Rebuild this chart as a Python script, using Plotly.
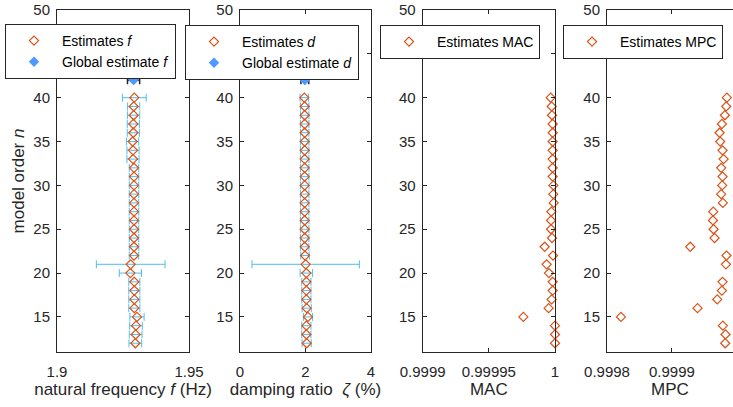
import plotly.graph_objects as go

# ---------------- data ----------------
model_order = list(range(12, 41))

freq_est = [1.92967, 1.92980, 1.92992, 1.93030, 1.92929, 1.92929, 1.92929, 1.92929,
            1.92778, 1.92790, 1.92917, 1.92917, 1.92917, 1.92917, 1.92917, 1.92917,
            1.92917, 1.92917, 1.92917, 1.92917, 1.92917, 1.92879, 1.92879, 1.92866,
            1.92891, 1.92891, 1.92904, 1.92904, 1.92929]
freq_err = [0.0024, 0.0024, 0.0024, 0.0027, 0.0021, 0.0021, 0.0021, 0.0021,
            0.0042, 0.0130, 0.0018, 0.0018, 0.0018, 0.0018, 0.0018, 0.0018,
            0.0018, 0.0018, 0.0018, 0.0018, 0.0018, 0.0023, 0.0023, 0.0023,
            0.0023, 0.0023, 0.0023, 0.0023, 0.0045]

damp_est = [2.036, 2.026, 2.026, 2.076, 2.036, 2.026, 2.026, 2.026,
            2.026, 2.005, 1.985, 1.975, 1.975, 1.975, 1.975, 1.975,
            1.975, 1.975, 1.975, 1.975, 1.975, 1.975, 1.975, 1.975,
            1.975, 1.975, 1.975, 1.975, 1.964]
damp_err = [0.14, 0.14, 0.14, 0.14, 0.14, 0.14, 0.14, 0.14,
            0.19, 1.64, 0.13, 0.13, 0.13, 0.13, 0.13, 0.13,
            0.13, 0.13, 0.13, 0.13, 0.13, 0.13, 0.13, 0.13,
            0.13, 0.13, 0.13, 0.13, 0.13]

mac_est = [1.0, 1.0, 1.0, 0.9999761, 0.99999521, 0.99999748, 0.99999824, 0.99999824,
           0.99999546, 0.9999937, 0.99999849, 0.99999219, 0.99999773, 0.99999698,
           0.99999698, 0.99999723, 0.999999, 0.99999874, 0.99999874, 0.99999824,
           0.99999824, 0.99999824, 0.99999824, 0.99999824, 0.99999824, 0.99999824,
           0.99999773, 0.99999748, 0.99999673]

mpc_est = [0.9999820, 0.9999825, 0.9999784, 0.9998215, 0.9999394, 0.9999697, 0.9999769,
           0.9999779, 0.99999998, 0.9999831, 0.9999840, 0.9999282, 0.9999656, 0.9999641,
           0.9999631, 0.9999636, 0.9999784, 0.9999758, 0.9999774, 0.9999779, 0.9999758,
           0.9999795, 0.9999779, 0.9999743, 0.9999733, 0.9999769, 0.9999815, 0.9999835,
           0.9999846]

global_order = [42]
global_freq = [1.929]
global_freq_err = [0.0023]
global_damp = [1.98]
global_damp_err = [0.12]

y_ticks = [15, 20, 25, 30, 35, 40, 45, 50]
f_ticks = [1.9, 1.95]
f_ticktext = ["1.9", "1.95"]
d_ticks = [0, 2, 4]
mac_ticks = [0.9999, 0.99995, 1.0]
mac_ticktext = ["0.9999", "0.99995", "1"]
mpc_ticks = [0.9998, 0.9999, 1.0]
mpc_ticktext = ["0.9998", "0.9999", "1"]

# ---------------- style ----------------
W, H = 733, 407
ORANGE = "#D95319"
CYAN = "#4DBEEE"
BLUE = "#4D99FF"
AX = "#262626"
TXT = "#262626"
FONT = "Liberation Sans, Arial, Helvetica, sans-serif"


def fx(p):
    return p / W


def fy(p):
    return 1 - p / H


y_dom = [fy(352), fy(10)]
x_doms = [[fx(57), fx(189)], [fx(240), fx(371)], [fx(422.7), fx(555)], [fx(607), 1.0]]

est_marker = dict(symbol="diamond-open", size=7, color=ORANGE, line=dict(width=1.2, color=ORANGE))
glob_marker = dict(symbol="diamond", size=8, color=BLUE, line=dict(width=0))

fig = go.Figure()

fig.add_trace(go.Scatter(
    x=freq_est, y=model_order, mode="markers", name="Estimates <i>f</i>",
    marker=est_marker,
    error_x=dict(type="data", array=freq_err, color=CYAN, thickness=1, width=4),
    xaxis="x", yaxis="y", legend="legend"))
fig.add_trace(go.Scatter(
    x=global_freq, y=global_order, mode="markers", name="Global estimate <i>f</i>",
    marker=glob_marker,
    error_x=dict(type="data", array=global_freq_err, color=AX, thickness=1.5, width=4),
    xaxis="x", yaxis="y", legend="legend"))

fig.add_trace(go.Scatter(
    x=damp_est, y=model_order, mode="markers", name="Estimates <i>d</i>",
    marker=est_marker,
    error_x=dict(type="data", array=damp_err, color=CYAN, thickness=1, width=4),
    xaxis="x2", yaxis="y2", legend="legend2"))
fig.add_trace(go.Scatter(
    x=global_damp, y=global_order, mode="markers", name="Global estimate <i>d</i>",
    marker=glob_marker,
    error_x=dict(type="data", array=global_damp_err, color=AX, thickness=1.5, width=4),
    xaxis="x2", yaxis="y2", legend="legend2"))

fig.add_trace(go.Scatter(
    x=mac_est, y=model_order, mode="markers", name="Estimates MAC",
    marker=est_marker, cliponaxis=False,
    xaxis="x3", yaxis="y3", legend="legend3"))

fig.add_trace(go.Scatter(
    x=mpc_est, y=model_order, mode="markers", name="Estimates MPC",
    marker=est_marker, cliponaxis=False,
    xaxis="x4", yaxis="y4", legend="legend4"))

common = dict(showline=True, linecolor=AX, linewidth=1, mirror="ticks", ticks="inside",
              ticklen=4, tickcolor=AX, tickwidth=1, showgrid=False, zeroline=False,
              tickfont=dict(size=15, color=TXT, family=FONT), automargin=False)
title_font = dict(size=17, color=TXT, family=FONT)

yax = dict(common, range=[11, 50], tickvals=y_ticks, domain=y_dom, ticklabelstandoff=3)
xax = dict(common, ticklabelstandoff=6)

layout = dict(
    width=W, height=H, margin=dict(l=0, r=0, t=0, b=0),
    paper_bgcolor="white", plot_bgcolor="white",
    font=dict(family=FONT, color=TXT),
    xaxis=dict(xax, domain=x_doms[0], range=[1.9, 1.95], tickvals=f_ticks, ticktext=f_ticktext,
               anchor="y", title=dict(text="natural frequency <i>f</i> (Hz)", font=title_font, standoff=2)),
    xaxis2=dict(xax, domain=x_doms[1], range=[0, 4], tickvals=d_ticks,
                anchor="y2", title=dict(text="damping ratio  <i>ζ</i> (%)", font=title_font, standoff=2)),
    xaxis3=dict(xax, domain=x_doms[2], range=[0.9999, 1.0], tickvals=mac_ticks, ticktext=mac_ticktext,
                anchor="y3", title=dict(text="MAC", font=title_font, standoff=2)),
    xaxis4=dict(xax, domain=x_doms[3], range=[0.9998, 0.999994], tickvals=mpc_ticks, ticktext=mpc_ticktext,
                anchor="y4", title=dict(text="MPC", font=title_font, standoff=2)),
    yaxis=dict(yax, anchor="x", title=dict(text="model order <i>n</i>", font=title_font, standoff=4)),
    yaxis2=dict(yax, anchor="x2"),
    yaxis3=dict(yax, anchor="x3"),
    yaxis4=dict(yax, anchor="x4", mirror=False),
)

leg = dict(bgcolor="white", bordercolor=AX, borderwidth=1, xanchor="left", yanchor="top",
           font=dict(size=14, color="#000000", family=FONT), itemwidth=46, tracegroupgap=0)
layout["legend"] = dict(leg, x=fx(5), y=fy(24))
layout["legend2"] = dict(leg, x=fx(185), y=fy(25))
layout["legend3"] = dict(leg, x=fx(380), y=fy(25))
layout["legend4"] = dict(leg, x=fx(563), y=fy(25))

fig.update_layout(**layout)
fig.update_layout(showlegend=True)

fig.write_html("out.html", config={"displayModeBar": False},
               post_script="document.body.style.margin='0';document.body.style.overflow='hidden';")
